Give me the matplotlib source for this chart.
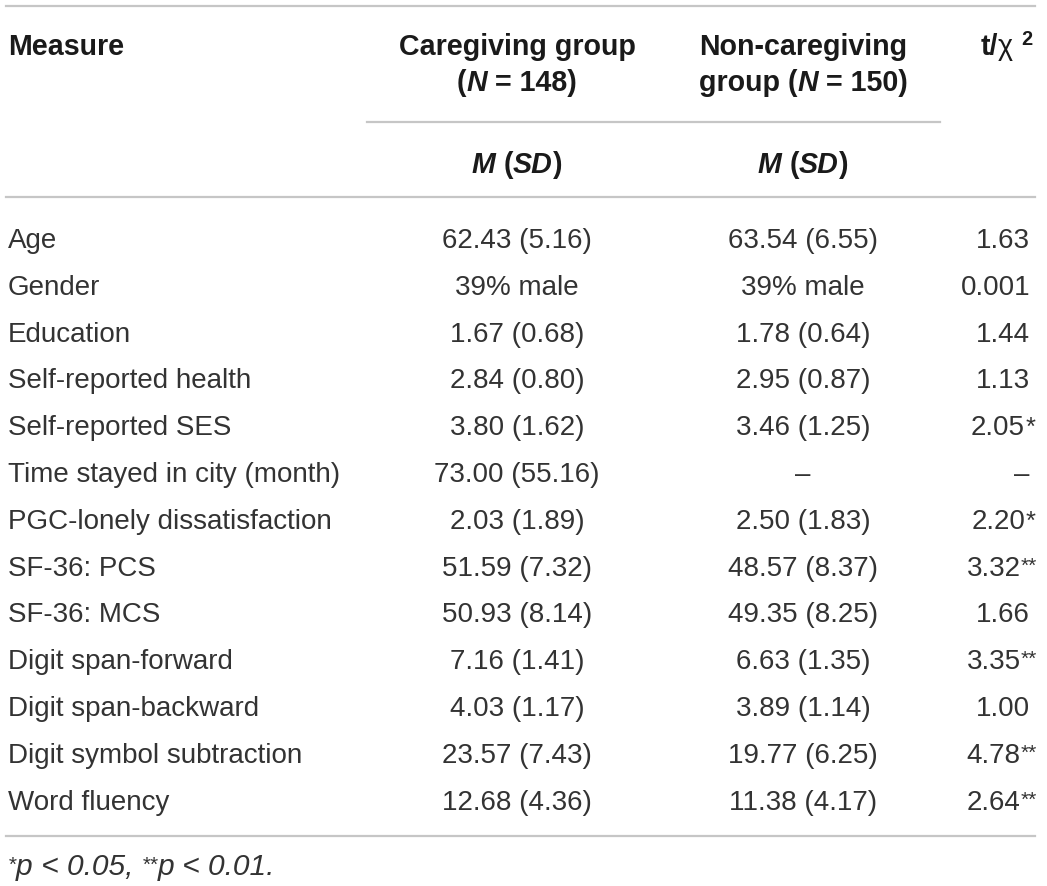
import matplotlib
matplotlib.use("Agg")
import matplotlib.pyplot as plt
from matplotlib.lines import Line2D

measures = ["Age", "Gender", "Education", "Self-reported health", "Self-reported SES",
            "Time stayed in city (month)", "PGC-lonely dissatisfaction", "SF-36: PCS",
            "SF-36: MCS", "Digit span-forward", "Digit span-backward",
            "Digit symbol subtraction", "Word fluency"]
caregiving = ["62.43 (5.16)", "39% male", "1.67 (0.68)", "2.84 (0.80)", "3.80 (1.62)",
              "73.00 (55.16)", "2.03 (1.89)", "51.59 (7.32)", "50.93 (8.14)",
              "7.16 (1.41)", "4.03 (1.17)", "23.57 (7.43)", "12.68 (4.36)"]
noncaregiving = ["63.54 (6.55)", "39% male", "1.78 (0.64)", "2.95 (0.87)", "3.46 (1.25)",
                 "\u2013", "2.50 (1.83)", "48.57 (8.37)", "49.35 (8.25)",
                 "6.63 (1.35)", "3.89 (1.14)", "19.77 (6.25)", "11.38 (4.17)"]
stat_values = ["1.63", "0.001", "1.44", "1.13", "2.05", "\u2013", "2.20", "3.32",
               "1.66", "3.35", "1.00", "4.78", "2.64"]
stat_stars = ["", "", "", "", "*", "", "*", "**", "", "**", "", "**", "**"]

W, H = 1047, 887
fig = plt.figure(figsize=(W / 100, H / 100), dpi=100)
FONT = "Liberation Sans"
FS = 20
FSH = 20.6
TXT = "#333333"
HDR = "#1a1a1a"
RULE = "#c6c6c6"

renderer = fig.canvas.get_renderer()


def px(x, y):
    return x / W, 1 - y / H


def seg_width(s, **kw):
    t = fig.text(0, 0, s, fontfamily=FONT, **kw)
    bb = t.get_window_extent(renderer=renderer)
    t.remove()
    return bb.width


def draw_segments(x, y, segs, ha="left", va="baseline"):
    """segs: list of (text, kwargs, dy_px)"""
    widths = [seg_width(s, **kw) for s, kw, dy in segs]
    total = sum(widths)
    if ha == "center":
        x0 = x - total / 2
    elif ha == "right":
        x0 = x - total
    else:
        x0 = x
    cx = x0
    for (s, kw, dy), w in zip(segs, widths):
        fig.text(*px(cx, y - dy), s, fontfamily=FONT, va=va, ha="left", **kw)
        cx += w


def hline(x0, x1, y, lw=1.6):
    fig.add_artist(Line2D([x0 / W, x1 / W], [1 - y / H, 1 - y / H],
                          color=RULE, lw=lw, transform=fig.transFigure))


B = dict(fontsize=FSH, fontweight="bold", color=HDR)
BI = dict(fontsize=FSH, fontweight="bold", fontstyle="italic", color=HDR)
R = dict(fontsize=FS, color=TXT)

X_MEAS = 8
X_CARE = 517
X_NON = 803
X_STAT = 1030

# rules
L0, L1 = 6, 1035
hline(L0, L1, 7)
hline(367, 940, 123)
hline(L0, L1, 198)
hline(L0, L1, 837)

# header
Y1, Y2, Y3 = 55, 91, 173
draw_segments(X_MEAS, Y1, [("Measure", B, 0)])
draw_segments(X_CARE, Y1, [("Caregiving group", B, 0)], ha="center")
draw_segments(X_CARE, Y2, [("(", B, 0), ("N", BI, 0), (" = 148)", B, 0)], ha="center")
draw_segments(X_NON, Y1, [("Non-caregiving", B, 0)], ha="center")
draw_segments(X_NON, Y2, [("group (", B, 0), ("N", BI, 0), (" = 150)", B, 0)], ha="center")
draw_segments(X_STAT + 2, Y1, [("t/", B, 0), ("\u03c7", dict(fontsize=FSH, color=HDR), 0),
                               (" ", B, 0),
                               ("2", dict(fontsize=FSH * 0.7, fontweight="bold", color=HDR), 10)],
              ha="right")
for xc in (X_CARE, X_NON):
    draw_segments(xc, Y3, [("M", BI, 0), (" (", B, 0), ("SD", BI, 0), (")", B, 0)], ha="center")

# body
Y0 = 248
DY = 46.8
STAR1 = dict(fontsize=FS * 0.92, color=TXT)
STAR2 = dict(fontsize=FS * 0.75, color=TXT)
for i, m in enumerate(measures):
    y = Y0 + i * DY
    draw_segments(X_MEAS, y, [(m, R, 0)])
    draw_segments(X_CARE, y, [(caregiving[i], R, 0)], ha="center")
    draw_segments(X_NON, y, [(noncaregiving[i], R, 0)], ha="center")
    segs = [(stat_values[i], R, 0)]
    xr = X_STAT
    if stat_stars[i] == "*":
        segs.append((stat_stars[i], STAR1, 0))
        xr = X_STAT + 5
    elif stat_stars[i] == "**":
        segs.append((stat_stars[i], STAR2, 4))
        xr = X_STAT + 7
    draw_segments(xr, y, segs, ha="right")

# footnote
FI = dict(fontsize=21.5, fontstyle="italic", color=TXT)
FS_STAR = dict(fontsize=21.5 * 0.7, fontstyle="italic", color=TXT)
draw_segments(X_MEAS, 875, [("*", FS_STAR, 4), ("p", FI, 0), (" < 0.05, ", FI, 0),
                            ("**", FS_STAR, 4), ("p", FI, 0), (" < 0.01.", FI, 0)])

fig.savefig("out.png", dpi=100)
